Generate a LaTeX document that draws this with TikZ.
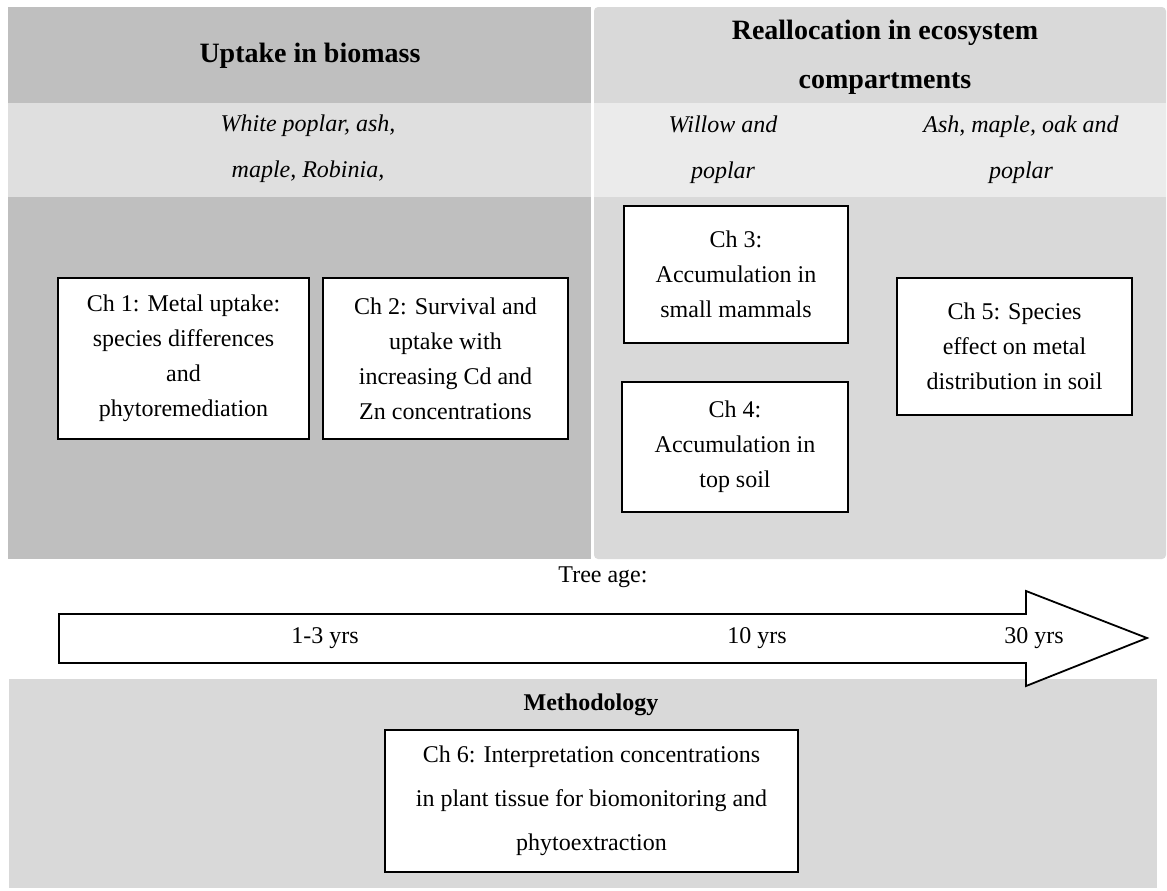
\documentclass[tikz,border=0pt]{standalone}
\usepackage{fontspec}
\setmainfont{Liberation Serif}
\usepackage{tikz}
\usetikzlibrary{positioning}

\definecolor{darkpanel}{HTML}{BFBFBF}
\definecolor{lightband}{HTML}{DFDFDF}
\definecolor{midpanel}{HTML}{D9D9D9}
\definecolor{paleband}{HTML}{EBEBEB}

\begin{document}
\begin{tikzpicture}[x=0.5pt, y=-0.5pt,
  chbox/.style={draw, fill=white, line width=0.9pt, align=center, inner sep=2pt,
    font=\fontsize{12}{17.5}\selectfont},
  heading/.style={align=center, font=\fontsize{14}{24.5}\selectfont\bfseries},
  species/.style={align=center, font=\fontsize{12}{23}\selectfont\itshape},
  yearlabel/.style={font=\fontsize{12}{14}\selectfont}]
\useasboundingbox (0,0) rectangle (1167,890);

\fill[darkpanel] (8,7) rectangle (591,559);
\fill[lightband] (8,103) rectangle (591,197);
\fill[midpanel, rounded corners=2pt] (594,7) rectangle (1166,559);
\fill[paleband] (594,103) rectangle (1166,197);
\fill[midpanel] (9,679) rectangle (1157,888);

\node[heading] (uptake) at (310,56) {Uptake in biomass};
\node[heading] (realloc) at (885,57) {Reallocation in ecosystem\\compartments};
\node[species] (sp1) at (308,149) {White poplar, ash,\\maple, Robinia,};
\node[species] (sp2) at (723,150) {Willow and\\poplar};
\node[species] (sp3) at (1021,150) {Ash, maple, oak and\\poplar};

\node[chbox, minimum width=125.5pt, minimum height=80.5pt] (ch1) at (183.5,358.5)
  {Ch 1: Metal uptake:\\species differences\\and\\phytoremediation};
\node[chbox, minimum width=122.5pt, minimum height=80.5pt] (ch2) at (445.5,358.5)
  {Ch 2: Survival and\\uptake with\\increasing Cd and\\Zn concentrations};
\node[chbox, minimum width=112pt, minimum height=68.5pt] (ch3) at (736,274.5)
  {Ch 3:\\Accumulation in\\small mammals};
\node[chbox, minimum width=113pt, minimum height=65pt] (ch4) at (735,447)
  {Ch 4:\\Accumulation in\\top soil};
\node[chbox, minimum width=117.5pt, minimum height=68.5pt] (ch5) at (1014.5,346.5)
  {Ch 5: Species\\effect on metal\\distribution in soil};

\node[yearlabel] (treeage) at (603,577) {Tree age:};
\coordinate (tail) at (59,638);
\coordinate (tip) at (1147,638);
\draw[fill=white, line width=0.9pt, line join=miter]
  (59,614) -- (1026,614) -- (1026,591) -- (tip) -- (1026,686) -- (1026,663) -- (59,663) -- cycle;
\node[yearlabel] (yr1) at (325,638) {1-3 yrs};
\node[yearlabel] (yr10) at (757,638) {10 yrs};
\node[yearlabel] (yr30) at (1034,638) {30 yrs};

\node[font=\fontsize{12}{14}\selectfont\bfseries] (method) at (591,705) {Methodology};
\node[chbox, font=\fontsize{12}{22}\selectfont, minimum width=206.5pt, minimum height=71pt] (ch6) at (591.5,801)
  {Ch 6: Interpretation concentrations\\in plant tissue for biomonitoring and\\phytoextraction};
\end{tikzpicture}
\end{document}
